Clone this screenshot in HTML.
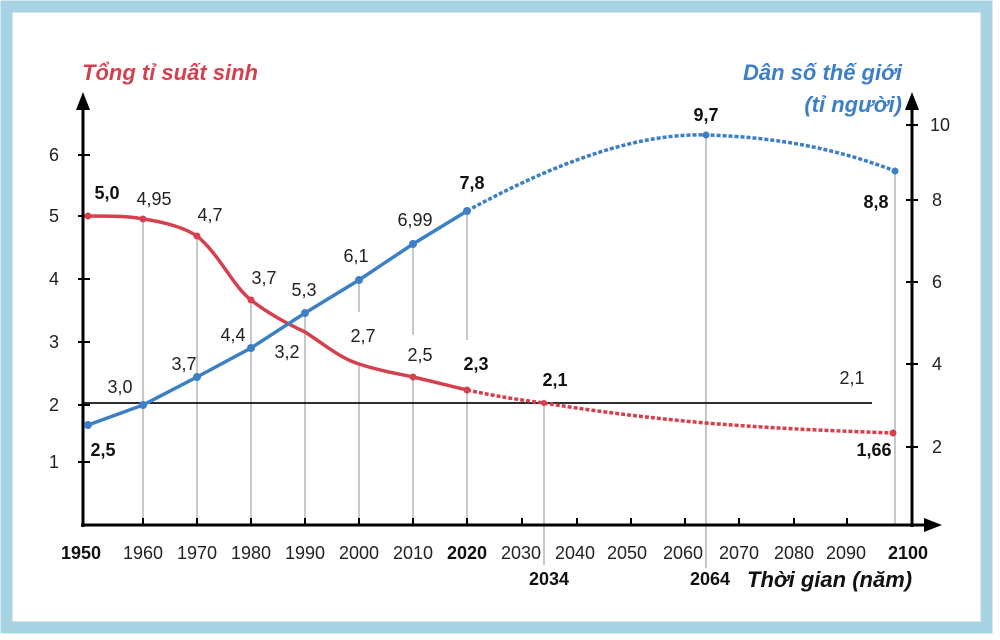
<!DOCTYPE html>
<html><head><meta charset="utf-8"><style>
body{margin:0;background:#fff}
svg{display:block;font-family:"Liberation Sans","DejaVu Sans",sans-serif}
</style></head><body>
<svg width="1000" height="640" viewBox="0 0 1000 640">
<rect x="0" y="0" width="1000" height="640" fill="#fff"/>
<rect x="6.5" y="6.5" width="980" height="621" fill="none" stroke="#a8d3e3" stroke-width="12"/>
<g stroke="#aaa" stroke-width="1.3">
<line x1="143" y1="219" x2="143" y2="525"/>
<line x1="197" y1="236" x2="197" y2="525"/>
<line x1="251" y1="300" x2="251" y2="525"/>
<line x1="305" y1="313" x2="305" y2="525"/>
<line x1="359" y1="280" x2="359" y2="312"/>
<line x1="359" y1="364" x2="359" y2="525"/>
<line x1="413" y1="244" x2="413" y2="335"/>
<line x1="413" y1="377" x2="413" y2="525"/>
<line x1="467" y1="211" x2="467" y2="340"/>
<line x1="467" y1="390" x2="467" y2="525"/>
<line x1="544" y1="403" x2="544" y2="565"/>
<line x1="706" y1="135" x2="706" y2="568"/>
<line x1="895" y1="171" x2="895" y2="525"/>
</g>
<line x1="83" y1="403" x2="872" y2="403" stroke="#111" stroke-width="1.8"/>
<g stroke="#000" stroke-width="3">
<line x1="83" y1="527" x2="83" y2="108"/>
<line x1="81" y1="525" x2="925" y2="525"/>
<line x1="912" y1="527" x2="912" y2="108"/>
</g>
<polygon points="83,92 76,110 90,110" fill="#000"/>
<polygon points="912,92 905,110 919,110" fill="#000"/>
<polygon points="942,525 924,518 924,532" fill="#000"/>
<g stroke="#000" stroke-width="2">
<line x1="78" y1="155" x2="90" y2="155"/><line x1="78" y1="216" x2="90" y2="216"/><line x1="78" y1="279" x2="90" y2="279"/><line x1="78" y1="342" x2="90" y2="342"/><line x1="78" y1="405" x2="90" y2="405"/><line x1="78" y1="462" x2="90" y2="462"/>
<line x1="906" y1="125" x2="918" y2="125"/><line x1="906" y1="200" x2="918" y2="200"/><line x1="906" y1="282" x2="918" y2="282"/><line x1="906" y1="364" x2="918" y2="364"/><line x1="906" y1="447" x2="918" y2="447"/>
<line x1="143" y1="518" x2="143" y2="525"/><line x1="197" y1="518" x2="197" y2="525"/><line x1="251" y1="518" x2="251" y2="525"/><line x1="305" y1="518" x2="305" y2="525"/><line x1="359" y1="518" x2="359" y2="525"/><line x1="413" y1="518" x2="413" y2="525"/><line x1="467" y1="518" x2="467" y2="525"/><line x1="522" y1="518" x2="522" y2="525"/><line x1="577" y1="518" x2="577" y2="525"/><line x1="631" y1="518" x2="631" y2="525"/><line x1="685" y1="518" x2="685" y2="525"/><line x1="739" y1="518" x2="739" y2="525"/><line x1="794" y1="518" x2="794" y2="525"/><line x1="847" y1="518" x2="847" y2="525"/>
</g>
<path d="M88,216 C110,216 130,216 143,219 C165,222 185,228 197,236 C220,255 232,285 251,300 C270,315 290,325 305,332 C325,345 340,358 359,364 C380,371 395,373 413,377 C435,382 450,386 467,390" fill="none" stroke="#d5404f" stroke-width="3.5"/>
<path d="M467,390 C495,396 520,400 544,403 C600,412 650,418 706,423 C780,429 840,431 893,433" fill="none" stroke="#d5404f" stroke-width="3.5" stroke-dasharray="4,2"/>
<g fill="#d5404f"><circle cx="88" cy="216" r="3.5"/><circle cx="143" cy="219" r="3.5"/><circle cx="197" cy="236" r="3.5"/><circle cx="251" cy="300" r="3.5"/><circle cx="413" cy="377" r="3.5"/><circle cx="467" cy="390" r="3.5"/><circle cx="544" cy="403" r="3"/><circle cx="893" cy="433" r="3.5"/></g>
<polyline points="88,425 143,405 197,377 251,348 305,313 359,280 413,244 467,211" fill="none" stroke="#3d7fc7" stroke-width="3.5"/>
<path d="M467,211 C560,160 640,133 706,135 C780,137 840,150 895,171" fill="none" stroke="#3d7fc7" stroke-width="3.5" stroke-dasharray="4,2"/>
<g fill="#3d7fc7"><circle cx="88" cy="425" r="4"/><circle cx="143" cy="405" r="4"/><circle cx="197" cy="377" r="4"/><circle cx="251" cy="348" r="4"/><circle cx="305" cy="313" r="4"/><circle cx="359" cy="280" r="4"/><circle cx="413" cy="244" r="4"/><circle cx="467" cy="211" r="4"/><circle cx="706" cy="135" r="3.5"/><circle cx="895" cy="171" r="3.5"/></g>
<text x="82" y="80" font-size="22" font-weight="bold" font-style="italic" fill="#d5404f">Tổng tỉ suất sinh</text>
<text x="902" y="80" font-size="22" font-weight="bold" font-style="italic" fill="#3d7fc7" text-anchor="end">Dân số thế giới</text>
<text x="902" y="112" font-size="22" font-weight="bold" font-style="italic" fill="#3d7fc7" text-anchor="end">(tỉ người)</text>
<g font-size="18" fill="#222" text-anchor="middle">
<text x="54" y="161">6</text><text x="54" y="222">5</text><text x="54" y="285">4</text><text x="54" y="348">3</text><text x="54" y="411">2</text><text x="54" y="468">1</text>
<text x="940" y="131">10</text><text x="937" y="206">8</text><text x="937" y="288">6</text><text x="937" y="370">4</text><text x="937" y="453">2</text>
<text x="143" y="559">1960</text><text x="197" y="559">1970</text><text x="251" y="559">1980</text><text x="305" y="559">1990</text><text x="359" y="559">2000</text><text x="413" y="559">2010</text><text x="521" y="559">2030</text><text x="575" y="559">2040</text><text x="627" y="559">2050</text><text x="683" y="559">2060</text><text x="739" y="559">2070</text><text x="794" y="559">2080</text><text x="846" y="559">2090</text>
</g>
<g font-size="18" fill="#111" text-anchor="middle" font-weight="bold">
<text x="81" y="559">1950</text><text x="467" y="559">2020</text><text x="908" y="559">2100</text>
<text x="549" y="585">2034</text><text x="710" y="585">2064</text>
</g>
<text x="747" y="587" font-size="22" font-weight="bold" font-style="italic" fill="#111">Thời gian (năm)</text>
<g font-size="18" fill="#222" text-anchor="middle">
<text x="154" y="205">4,95</text><text x="210" y="221">4,7</text><text x="264" y="284">3,7</text><text x="120" y="393">3,0</text><text x="184" y="370">3,7</text><text x="233" y="341">4,4</text><text x="304" y="296">5,3</text><text x="287" y="358">3,2</text><text x="356" y="262">6,1</text><text x="363" y="342">2,7</text><text x="415" y="226">6,99</text><text x="420" y="361">2,5</text><text x="852" y="384">2,1</text>
</g>
<g font-size="18" fill="#111" text-anchor="middle" font-weight="bold">
<text x="107" y="199">5,0</text><text x="103" y="456">2,5</text><text x="472" y="189">7,8</text><text x="476" y="370">2,3</text><text x="555" y="386">2,1</text><text x="706" y="121">9,7</text><text x="876" y="208">8,8</text><text x="874" y="456">1,66</text>
</g>
</svg>
</body></html>
